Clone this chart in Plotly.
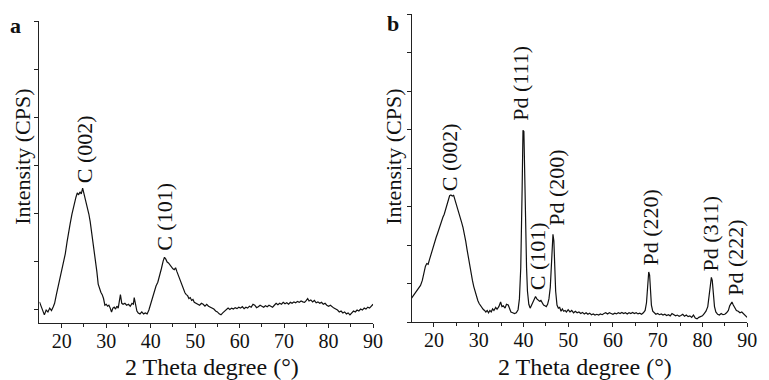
import plotly.graph_objects as go

# ---------------- data ----------------
a_theta = [15.0, 15.4, 15.8, 16.1, 16.5, 16.9, 17.3, 17.7, 18.1, 18.4, 18.8, 19.1, 19.4, 19.8, 20.1, 20.5,
           20.8, 21.2, 21.6, 21.9, 22.3, 22.6, 22.9, 23.2, 23.5, 23.8, 24.1, 24.4, 24.7, 24.9, 25.2, 25.5,
           25.8, 26.1, 26.4, 26.7, 27.0, 27.3, 27.6, 27.9, 28.2, 28.5, 28.8, 29.1, 29.4, 29.7, 30.0, 30.3,
           30.6, 30.9, 31.2, 31.5, 31.8, 32.1, 32.4, 32.7, 33.0, 33.2, 33.5, 33.8, 34.2, 34.6, 35.0, 35.4,
           35.8, 36.1, 36.3, 36.6, 36.9, 37.2, 37.6, 38.0, 38.4, 38.8, 39.2, 39.6, 40.0, 40.4, 40.8, 41.2,
           41.6, 42.0, 42.4, 42.8, 43.1, 43.4, 43.7, 44.0, 44.3, 44.7, 45.0, 45.3, 45.6, 45.9, 46.2, 46.5,
           46.8, 47.1, 47.4, 47.7, 48.0, 48.3, 48.6, 48.9, 49.2, 49.5, 49.8, 50.2, 50.6, 51.0, 51.4, 51.8,
           52.2, 52.6, 53.0, 53.4, 53.8, 54.2, 54.6, 55.0, 55.4, 55.8, 56.2, 56.6, 57.0, 57.4, 57.8, 58.2,
           58.6, 59.0, 59.4, 59.8, 60.2, 60.6, 61.0, 61.4, 61.8, 62.2, 62.6, 63.0, 63.4, 63.8, 64.2, 64.6,
           65.0, 65.4, 65.8, 66.2, 66.6, 67.0, 67.4, 67.8, 68.2, 68.6, 69.0, 69.4, 69.8, 70.2, 70.6, 71.0,
           71.4, 71.8, 72.2, 72.6, 73.0, 73.4, 73.8, 74.2, 74.6, 75.0, 75.3, 75.6, 76.0, 76.4, 76.8, 77.2,
           77.6, 78.0, 78.4, 78.8, 79.2, 79.6, 80.0, 80.4, 80.8, 81.2, 81.6, 82.0, 82.4, 82.8, 83.2, 83.6,
           84.0, 84.4, 84.8, 85.2, 85.6, 86.0, 86.4, 86.8, 87.2, 87.6, 88.0, 88.4, 88.8, 89.2, 89.6, 90.0]
a_intensity = [0.15, 0.05, -0.08, -0.12, -0.02, -0.06, 0.02, -0.03, 0.05, 0.12, 0.30, 0.42, 0.54, 0.72, 0.85, 1.02,
               1.15, 1.40, 1.66, 1.78, 1.98, 2.12, 2.22, 2.33, 2.42, 2.38, 2.44, 2.40, 2.52, 2.45, 2.30, 2.18,
               2.12, 1.98, 1.82, 1.62, 1.40, 1.22, 1.05, 0.78, 0.52, 0.42, 0.35, 0.30, 0.22, 0.08, 0.10, 0.06,
               0.08, 0.02, -0.06, 0.02, 0.04, 0.00, 0.06, 0.02, 0.18, 0.30, 0.12, 0.10, 0.12, 0.08, 0.10, 0.06,
               0.12, 0.10, 0.24, 0.05, -0.04, -0.08, -0.10, -0.06, -0.10, -0.08, -0.10, -0.02, 0.10, 0.24, 0.38, 0.48,
               0.56, 0.68, 0.84, 1.00, 1.08, 1.04, 0.98, 0.96, 0.92, 0.86, 0.84, 0.82, 0.86, 0.78, 0.70, 0.64,
               0.54, 0.48, 0.40, 0.34, 0.30, 0.28, 0.22, 0.24, 0.18, 0.20, 0.14, 0.12, 0.10, 0.08, 0.12, 0.10,
               0.06, 0.10, 0.06, 0.04, 0.02, 0.00, -0.04, -0.06, -0.10, -0.12, -0.08, -0.04, 0.00, 0.02, -0.01, 0.02,
               0.00, 0.03, 0.01, 0.04, 0.02, 0.05, 0.01, 0.04, 0.02, 0.06, 0.04, 0.10, 0.08, 0.03, 0.05, 0.08,
               0.06, 0.04, 0.07, 0.05, 0.08, 0.06, 0.04, 0.08, 0.12, 0.09, 0.12, 0.10, 0.14, 0.11, 0.13, 0.10,
               0.14, 0.12, 0.15, 0.13, 0.16, 0.14, 0.17, 0.15, 0.14, 0.18, 0.22, 0.17, 0.19, 0.15, 0.18, 0.13,
               0.15, 0.12, 0.14, 0.10, 0.12, 0.08, 0.06, 0.08, 0.04, 0.02, 0.00, -0.02, -0.06, -0.04, -0.08, -0.06,
               -0.10, -0.08, -0.12, -0.08, -0.04, -0.06, -0.02, -0.04, 0.00, -0.02, 0.02, 0.00, 0.04, 0.02, 0.06, 0.10]

b_theta = [15.0, 15.4, 15.8, 16.2, 16.6, 17.0, 17.4, 17.8, 18.1, 18.4, 18.7, 19.0, 19.3, 19.6, 19.9, 20.2,
           20.5, 20.8, 21.1, 21.4, 21.7, 22.0, 22.3, 22.6, 22.9, 23.2, 23.5, 23.8, 24.1, 24.4, 24.7, 25.0,
           25.3, 25.6, 25.9, 26.2, 26.5, 26.8, 27.1, 27.4, 27.7, 28.0, 28.3, 28.6, 28.9, 29.2, 29.5, 29.8,
           30.1, 30.4, 30.7, 31.0, 31.3, 31.6, 31.9, 32.2, 32.5, 32.8, 33.1, 33.4, 33.8, 34.1, 34.5, 34.9,
           35.2, 35.5, 35.9, 36.2, 36.6, 36.9, 37.2, 37.6, 38.0, 38.4, 38.8, 39.1, 39.4, 39.7, 39.9, 40.1,
           40.3, 40.5, 40.7, 40.9, 41.2, 41.5, 41.8, 42.1, 42.4, 42.7, 43.0, 43.3, 43.6, 43.9, 44.2, 44.5,
           44.8, 45.1, 45.4, 45.7, 46.0, 46.3, 46.6, 46.8, 47.0, 47.2, 47.5, 47.8, 48.1, 48.4, 48.7, 49.0,
           49.3, 49.6, 50.0, 50.4, 50.8, 51.2, 51.6, 52.0, 52.4, 52.8, 53.2, 53.6, 54.0, 54.4, 54.8, 55.2,
           55.6, 56.0, 56.4, 56.8, 57.2, 57.6, 58.0, 58.4, 58.8, 59.2, 59.6, 60.0, 60.4, 60.8, 61.2, 61.6,
           62.0, 62.4, 62.8, 63.2, 63.6, 64.0, 64.4, 64.8, 65.2, 65.6, 66.0, 66.4, 66.8, 67.2, 67.5, 67.8,
           68.0, 68.2, 68.4, 68.6, 68.9, 69.2, 69.6, 70.0, 70.4, 70.8, 71.2, 71.6, 72.0, 72.4, 72.8, 73.2,
           73.6, 74.0, 74.4, 74.8, 75.2, 75.6, 76.0, 76.4, 76.8, 77.2, 77.6, 78.0, 78.4, 78.8, 79.2, 79.6,
           80.0, 80.4, 80.8, 81.2, 81.5, 81.8, 82.0, 82.2, 82.4, 82.7, 83.0, 83.4, 83.8, 84.2, 84.6, 85.0,
           85.4, 85.8, 86.1, 86.4, 86.6, 86.9, 87.2, 87.6, 88.0, 88.4, 88.8, 89.2, 89.6, 90.0]
b_intensity = [0.62, 0.68, 0.75, 0.82, 0.88, 0.95, 1.08, 1.30, 1.45, 1.52, 1.50, 1.62, 1.75, 1.88, 2.00, 2.08,
               2.20, 2.30, 2.42, 2.52, 2.62, 2.72, 2.80, 2.92, 3.05, 3.18, 3.28, 3.30, 3.27, 3.29, 3.18, 3.05,
               2.95, 2.82, 2.70, 2.58, 2.45, 2.30, 2.10, 1.88, 1.65, 1.45, 1.25, 1.08, 0.92, 0.78, 0.66, 0.56,
               0.48, 0.42, 0.36, 0.33, 0.30, 0.26, 0.30, 0.24, 0.30, 0.26, 0.34, 0.30, 0.38, 0.33, 0.40, 0.52,
               0.40, 0.42, 0.36, 0.46, 0.44, 0.32, 0.26, 0.24, 0.22, 0.24, 0.32, 0.60, 1.40, 3.40, 4.98, 4.95,
               3.60, 2.40, 1.40, 0.80, 0.46, 0.36, 0.44, 0.52, 0.62, 0.66, 0.60, 0.58, 0.54, 0.56, 0.48, 0.44,
               0.42, 0.40, 0.46, 0.60, 0.90, 1.60, 2.28, 2.10, 1.40, 0.80, 0.44, 0.36, 0.38, 0.28, 0.34, 0.28,
               0.30, 0.26, 0.32, 0.26, 0.30, 0.24, 0.28, 0.24, 0.26, 0.22, 0.25, 0.21, 0.24, 0.20, 0.23, 0.19,
               0.21, 0.18, 0.20, 0.18, 0.21, 0.19, 0.22, 0.24, 0.21, 0.24, 0.22, 0.20, 0.23, 0.21, 0.24, 0.22,
               0.25, 0.22, 0.24, 0.21, 0.24, 0.22, 0.25, 0.22, 0.24, 0.21, 0.23, 0.20, 0.24, 0.30, 0.50, 1.00,
               1.30, 1.22, 0.80, 0.44, 0.28, 0.24, 0.20, 0.22, 0.19, 0.21, 0.18, 0.20, 0.17, 0.19, 0.16, 0.22,
               0.18, 0.16, 0.18, 0.15, 0.17, 0.20, 0.15, 0.18, 0.14, 0.16, 0.12, 0.18, 0.10, 0.08, 0.12, 0.14,
               0.16, 0.22, 0.28, 0.40, 0.70, 1.05, 1.16, 1.08, 0.72, 0.40, 0.26, 0.20, 0.18, 0.22, 0.19, 0.20,
               0.24, 0.30, 0.42, 0.50, 0.52, 0.44, 0.36, 0.30, 0.28, 0.24, 0.26, 0.22, 0.18, 0.12]

x_tick_values = [20, 30, 40, 50, 60, 70, 80, 90]
x_tick_labels = ["20", "30", "40", "50", "60", "70", "80", "90"]

a_peak_labels = ["C (002)", "C (101)"]
a_peak_theta = [25.0, 43.2]
a_peak_y = [2.58, 1.17]

b_peak_labels = ["C (002)", "Pd (111)", "C (101)", "Pd (200)", "Pd (220)", "Pd (311)", "Pd (222)"]
b_peak_theta = [23.4, 39.3, 43.3, 47.2, 68.4, 81.8, 87.5]
b_peak_y = [3.35, 5.17, 0.78, 2.44, 1.40, 1.27, 0.63]

# ---------------- figure ----------------
W, H = 769, 380
FONT = "Liberation Serif, Times New Roman, serif"


def px_x(p):
    return p / W


def px_y(p):
    return 1 - p / H


fig = go.Figure()
fig.add_trace(go.Scatter(x=a_theta, y=a_intensity, mode="lines", xaxis="x", yaxis="y",
                         line=dict(color="#111111", width=1.2), showlegend=False, hoverinfo="skip"))
fig.add_trace(go.Scatter(x=b_theta, y=b_intensity, mode="lines", xaxis="x2", yaxis="y2",
                         line=dict(color="#111111", width=1.2), showlegend=False, hoverinfo="skip"))

xcommon = dict(range=[15, 90], tickmode="array", tickvals=x_tick_values, ticktext=x_tick_labels,
               ticks="outside", ticklen=4, tickwidth=1, tickcolor="#222", showline=True,
               linecolor="#222", linewidth=1, showgrid=False, zeroline=False,
               ticklabelstandoff=-4,
               tickfont=dict(family=FONT, size=20, color="#111"),
               minor=dict(ticks="outside", ticklen=3, tickvals=[25, 35, 45, 55, 65, 75, 85], tickcolor="#222"))
ycommon = dict(ticks="outside", ticklen=4, tickwidth=1, tickcolor="#222", showline=True,
               linecolor="#222", linewidth=1, showgrid=False, zeroline=False,
               showticklabels=False, dtick=1, tick0=0)

fig.update_layout(
    width=W, height=H,
    margin=dict(l=0, r=0, t=0, b=0),
    paper_bgcolor="white", plot_bgcolor="white",
    xaxis=dict(domain=[px_x(40), px_x(378)], anchor="y", **xcommon),
    yaxis=dict(domain=[px_y(323), px_y(21)], anchor="x", range=[-0.29, 6.0005], **ycommon),
    xaxis2=dict(domain=[px_x(417), px_x(757)], anchor="y2", **xcommon),
    yaxis2=dict(domain=[px_y(322), px_y(14)], anchor="x2", range=[0, 8.0005], **ycommon),
)

ann = []
for t, xv, yv in zip(a_peak_labels, a_peak_theta, a_peak_y):
    ann.append(dict(text=t, x=xv, y=yv, xref="x", yref="y", textangle=-90, showarrow=False,
                    xanchor="center", yanchor="bottom", font=dict(family=FONT, size=22, color="#111")))
for t, xv, yv in zip(b_peak_labels, b_peak_theta, b_peak_y):
    ann.append(dict(text=t, x=xv, y=yv, xref="x2", yref="y2", textangle=-90, showarrow=False,
                    xanchor="center", yanchor="bottom", font=dict(family=FONT, size=22, color="#111")))

# axis titles
for cx in (215, 593):
    ann.append(dict(text="2 Theta degree (°)", x=px_x(cx), y=px_y(367), xref="paper", yref="paper",
                    showarrow=False, xanchor="center", yanchor="middle",
                    font=dict(family=FONT, size=24, color="#111")))
for cx in (22, 398):
    ann.append(dict(text="Intensity (CPS)", x=px_x(cx), y=px_y(157), xref="paper", yref="paper",
                    showarrow=False, xanchor="center", yanchor="middle", textangle=-90,
                    font=dict(family=FONT, size=22, color="#111")))
# panel letters
ann.append(dict(text="<b>a</b>", x=px_x(16), y=px_y(26), xref="paper", yref="paper", showarrow=False,
                xanchor="center", yanchor="middle", font=dict(family=FONT, size=22, color="#111")))
ann.append(dict(text="<b>b</b>", x=px_x(398), y=px_y(24), xref="paper", yref="paper", showarrow=False,
                xanchor="center", yanchor="middle", font=dict(family=FONT, size=22, color="#111")))

fig.update_layout(annotations=ann)
fig.write_html("out.html")
